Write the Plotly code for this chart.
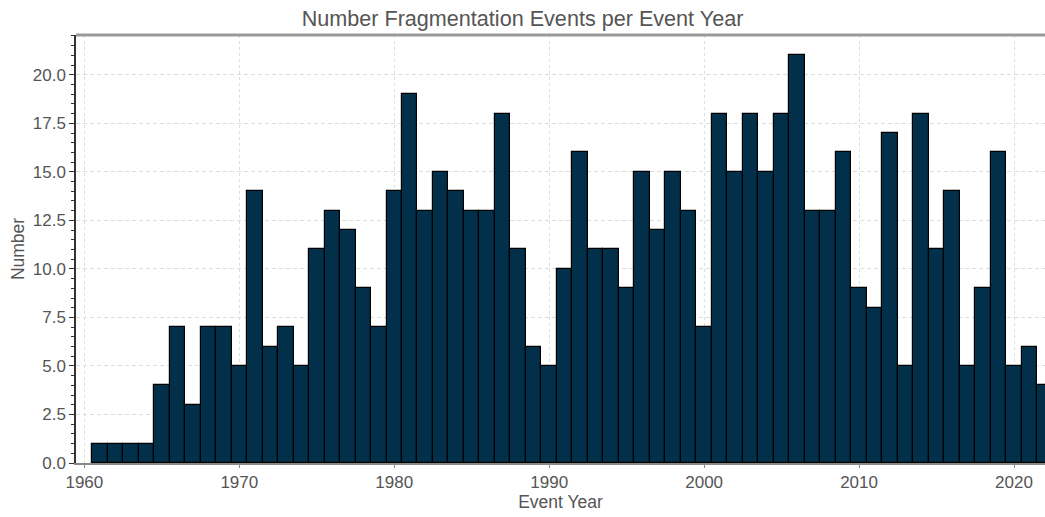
import plotly.graph_objects as go

years = list(range(1961, 2023))
counts = [1, 1, 1, 1, 4, 7, 3, 7, 7, 5,
          14, 6, 7, 5, 11, 13, 12, 9, 7, 14,
          19, 13, 15, 14, 13, 13, 18, 11, 6, 5,
          10, 16, 11, 11, 9, 15, 12, 15, 13, 7,
          18, 15, 18, 15, 18, 21, 13, 13, 16, 9,
          8, 17, 5, 18, 11, 14, 5, 9, 16, 5,
          6, 4]

title_text = "Number Fragmentation Events per Event Year"
x_label = "Event Year"
y_label = "Number"

fig = go.Figure(go.Bar(
    x=years, y=counts, width=1.0,
    marker=dict(color="#02304a", line=dict(color="#000000", width=1.2)),
))

font_family = "Liberation Sans, Arial, sans-serif"
fig.update_layout(
    width=1045, height=517,
    margin=dict(l=76, r=0, t=35, b=54, autoexpand=False),
    paper_bgcolor="white", plot_bgcolor="white",
    bargap=0, showlegend=False,
    font=dict(family=font_family, size=17, color="#555555"),
    title=dict(text=title_text, x=0.5, xanchor="center", y=1 - 18.5 / 517, yanchor="middle",
               font=dict(size=21.6, color="#555555")),
    shapes=[dict(type="line", xref="paper", yref="paper", x0=0, x1=1, y0=1, y1=1,
                 line=dict(color="#999999", width=3), layer="above")],
)
fig.update_xaxes(
    range=[1959.46, 2022.0], tickvals=[1960, 1970, 1980, 1990, 2000, 2010, 2020],
    showline=True, linecolor="#888888", linewidth=1.5,
    ticks="outside", ticklen=3, tickcolor="#888888",
    showgrid=True, gridcolor="#dddddd", griddash="3px,3px", gridwidth=1,
    zeroline=False, automargin=False,
    title=dict(text=x_label, font=dict(size=17.5, color="#555555"), standoff=5),
    tickfont=dict(size=17, color="#555555"),
)
fig.update_yaxes(
    range=[0, 22.05], tick0=0, dtick=2.5, tickformat=".1f",
    showline=True, linecolor="#333333", linewidth=1.5,
    ticks="outside", ticklen=5, tickcolor="#333333",
    minor=dict(dtick=0.5, ticks="outside", ticklen=3, tickcolor="#333333", showgrid=False),
    showgrid=True, gridcolor="#dddddd", griddash="4px,3px", gridwidth=1,
    zeroline=False, automargin=False,
    title=dict(text=y_label, font=dict(size=17.5, color="#555555"), standoff=4),
    tickfont=dict(size=17, color="#555555"),
)

fig.write_html("out.html", config={"displayModeBar": False},
               post_script="document.body.style.margin='0';document.body.style.overflow='hidden';")
